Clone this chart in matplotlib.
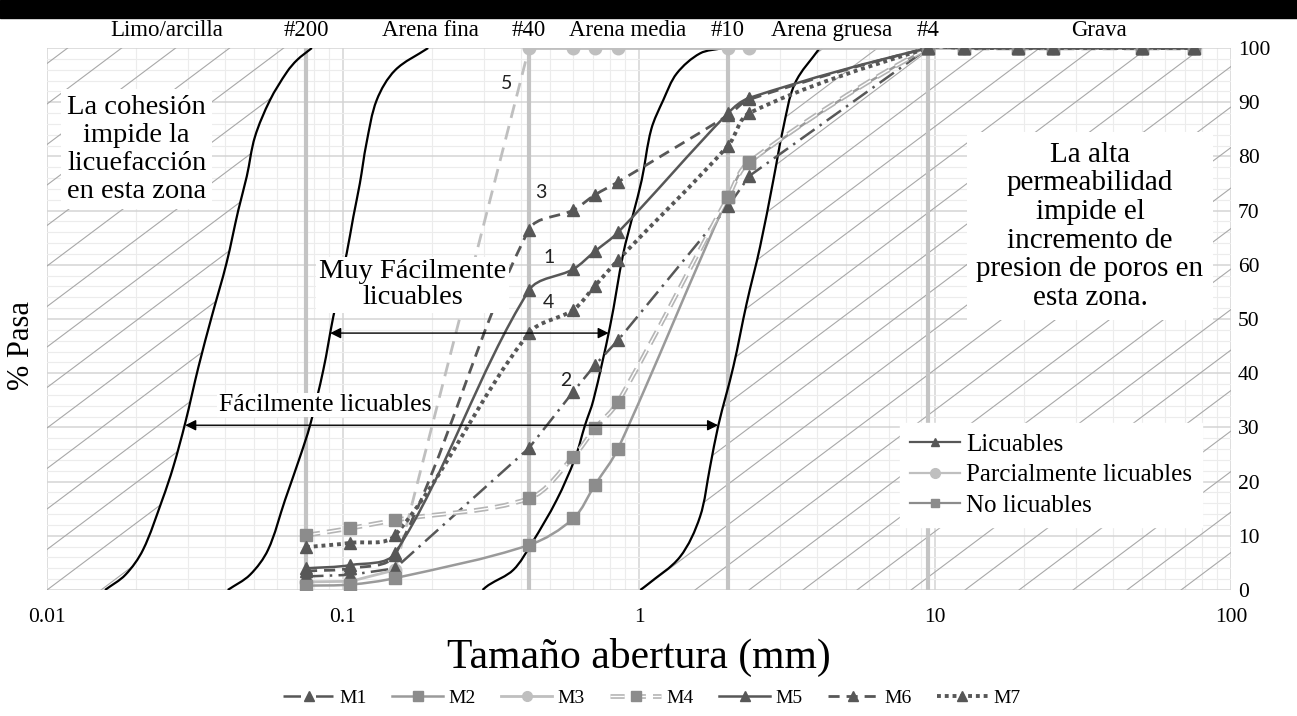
import numpy as np
import matplotlib
matplotlib.use('Agg')
import matplotlib.pyplot as plt
from matplotlib.patches import Polygon, Rectangle, PathPatch
from matplotlib.lines import Line2D
from matplotlib.path import Path
import matplotlib.ticker as mticker

# Sieve openings (mm) and percent passing for each sample
tamiz_mm = [0.075, 0.106, 0.15, 0.425, 0.6, 0.71, 0.85, 2.0, 2.36, 9.5, 12.5, 19.0, 25.0, 50.0, 75.0]
M1 = [2.5, 2.8, 4.0, 26.2, 36.6, 41.5, 46.1, 70.8, 76.4, 100, 100, 100, 100, 100, 100]
M2 = [0.8, 1.0, 2.2, 8.3, 13.2, 19.4, 26.1, 72.5, 78.8, 100, 100, 100, 100, 100, 100]
M3 = [1.5, 1.6, 3.7, 100, 100, 100, 100, 100, 100, 100, 100, 100, 100, 100, 100]
M4 = [10.1, 11.4, 12.9, 16.9, 24.6, 29.8, 34.7, 72.5, 79.0, 100, 100, 100, 100, 100, 100]
M5 = [4.0, 4.6, 6.8, 55.3, 59.2, 62.5, 66.0, 88.0, 90.8, 100, 100, 100, 100, 100, 100]
M6 = [3.5, 4.0, 6.5, 66.5, 70.1, 72.9, 75.3, 87.6, 90.5, 100, 100, 100, 100, 100, 100]
M7 = [7.9, 8.7, 10.1, 47.4, 51.7, 56.1, 60.9, 82.0, 88.0, 100, 100, 100, 100, 100, 100]

# Limit curves (mm, % passing)
lim_a_x = [0.0157, 0.0184, 0.0211, 0.0245, 0.0267, 0.0293, 0.0325, 0.0360, 0.0404, 0.0443, 0.0473, 0.0504, 0.0567, 0.0647, 0.070, 0.0785]
lim_a_y = [0, 2.8, 7.4, 16.6, 22.7, 30.8, 41.2, 50.4, 60.3, 70.1, 76.3, 83.6, 90.4, 95.6, 97.8, 100]
lim_b_x = [0.0408, 0.0485, 0.0558, 0.0637, 0.0716, 0.0774, 0.0858, 0.0927, 0.1029, 0.1084, 0.114, 0.120, 0.130, 0.150, 0.194]
lim_b_y = [0, 2.8, 7.4, 16.6, 24.6, 30.4, 40.6, 50.4, 62.1, 68.9, 75, 82.4, 90.4, 95.9, 100]
lim_c_x = [0.296, 0.31, 0.376, 0.434, 0.527, 0.608, 0.657, 0.701, 0.798, 0.885, 0.957, 1.021, 1.10, 1.208, 1.341, 1.607, 1.927]
lim_c_y = [0, 0.9, 3.7, 8.6, 16.6, 24.3, 30.4, 35, 48.6, 62.1, 69.5, 75.6, 85, 90.4, 95.3, 99, 100]
lim_d_x = [1.01, 1.062, 1.375, 1.607, 1.738, 1.854, 2.083, 2.311, 2.564, 2.843, 3.065, 3.365, 4.08]
lim_d_y = [0, 0.9, 6.1, 13.5, 22.7, 30.4, 41.2, 52.9, 63.3, 75.6, 85, 93.5, 100]

# Sieve marks and soil zones along the top
tamices = [0.075, 0.425, 2.0, 9.5]
tamiz_nombres = ['#200', '#40', '#10', '#4']
zonas = ['Limo/arcilla', 'Arena fina', 'Arena media', 'Arena gruesa', 'Grava']
zonas_x = [0.0254, 0.197, 0.918, 4.49, 35.8]

plt.rcParams['font.family'] = ['Liberation Serif', 'DejaVu Serif']

W, H = 1297, 716
AX_W, AX_H = 1184, 542
fig = plt.figure(figsize=(W / 100, H / 100), dpi=100)
ax = fig.add_axes([47 / W, 126 / H, AX_W / W, AX_H / H])
ax.set_xscale('log')
ax.set_xlim(0.01, 100)
ax.set_ylim(0, 100)
px_dec = AX_W / 4.0
px_pct = AX_H / 100.0


def suave(xs, ys):
    # smoothed line like Excel's: Bezier through the points, arms scaled by chord length
    u = np.log10(xs) * px_dec
    v = np.asarray(ys, dtype=float) * px_pct
    P = np.column_stack([u, v])
    n = len(P)
    d = np.hypot(*np.diff(P, axis=0).T)
    verts = [P[0]]
    codes = [Path.MOVETO]
    for i in range(n - 1):
        if i > 0:
            c1 = P[i] + (P[i + 1] - P[i - 1]) * d[i] / (d[i - 1] + d[i]) / 3
        else:
            c1 = P[i] + (P[i + 1] - P[i]) / 3
        if i + 2 < n:
            c2 = P[i + 1] - (P[i + 2] - P[i]) * d[i] / (d[i] + d[i + 1]) / 3
        else:
            c2 = P[i + 1] - (P[i + 1] - P[i]) / 3
        verts += [c1, c2, P[i + 1]]
        codes += [Path.CURVE4] * 3
    verts = np.array(verts)
    return Path(np.column_stack([10 ** (verts[:, 0] / px_dec), verts[:, 1] / px_pct]), codes)


def linea(xs, ys, z=3, **kw):
    ax.add_patch(PathPatch(suave(xs, ys), fill=False, zorder=z, capstyle='butt', **kw))


# black band at the very top
fig.patches.append(Rectangle((0, 1 - 18 / H), 1, 18 / H, transform=fig.transFigure,
                             color='black', zorder=0))

# grid
ax.set_xticks([0.01, 0.1, 1, 10, 100])
ax.set_xticklabels(['0.01', '0.1', '1', '10', '100'])
ax.xaxis.set_minor_locator(mticker.LogLocator(base=10, subs=(2, 3, 4, 5, 6, 7, 8, 9)))
ax.xaxis.set_minor_formatter(mticker.NullFormatter())
ax.set_yticks(range(0, 101, 10))
ax.set_yticks(range(0, 101, 2), minor=True)
ax.grid(which='major', color='#d4d4d4', lw=1.1)
ax.grid(which='minor', color='#ececec', lw=0.8)
ax.set_axisbelow(True)
ax.yaxis.tick_right()
ax.tick_params(which='both', length=0, labelsize=15.5)
ax.tick_params(axis='y', pad=5)
ax.tick_params(axis='x', pad=13)
for s in ax.spines.values():
    s.set_visible(False)

# hatched zones, drawn as thin diagonal lines clipped to the zone
izq = [(0.01, 0)] + list(zip(lim_a_x, lim_a_y)) + [(0.01, 100)]
der = list(zip(lim_d_x, lim_d_y)) + [(100, 100), (100, 0)]
slope = 0.75 * AX_W / AX_H
step = 54 / AX_W
for verts in (izq, der):
    clip = Polygon(verts, closed=True, transform=ax.transData)
    for k in range(-40, 40):
        x0 = k * step
        ln, = ax.plot([x0, x0 + 1 / slope], [0, 1], transform=ax.transAxes,
                      color='#a8a8a8', lw=0.8, zorder=1.2)
        ln.set_clip_path(clip)

# sieve lines and labels
for t, nombre in zip(tamices, tamiz_nombres):
    ax.axvline(t, color='#c4c4c4', lw=3, zorder=1.5)
    ax.text(t, 1.033, nombre, transform=ax.get_xaxis_transform(), ha='center', va='center',
            fontsize=16.5)
for z, zx in zip(zonas, zonas_x):
    ax.text(zx, 1.033, z, transform=ax.get_xaxis_transform(), ha='center', va='center',
            fontsize=16.5)

# limit curves
for lx, ly in ((lim_a_x, lim_a_y), (lim_b_x, lim_b_y), (lim_c_x, lim_c_y), (lim_d_x, lim_d_y)):
    linea(lx, ly, z=2, color='black', lw=1.6)

dark = '#575757'
mid = '#8c8c8c'
light = '#bfbfbf'
mk = dict(ls='none', ms=9, zorder=3.5)

# M1 dash-dot (straight segments)
ax.plot(tamiz_mm, M1, color=dark, lw=1.8, dashes=(7, 2.5, 1, 2.5), zorder=3)
ax.plot(tamiz_mm, M1, marker='^', color=dark, **mk)
# M2
linea(tamiz_mm, M2, color='#9a9a9a', lw=1.8)
ax.plot(tamiz_mm, M2, marker='s', color=mid, ls='none', ms=8, zorder=3.5)
# M3: light line, dashed on the long jump
ax.plot(tamiz_mm[2:4], M3[2:4], color=light, lw=2, dashes=(5, 3), zorder=3)
ax.plot(tamiz_mm[:3], M3[:3], color=light, lw=2, marker='o', ms=9, zorder=3)
ax.plot(tamiz_mm[3:], M3[3:], color=light, lw=2, marker='o', ms=9, zorder=3)
# M4: double line
linea(tamiz_mm, M4, color='#b5b5b5', lw=3.4, ls=(0, (3, 1.5)))
linea(tamiz_mm, M4, color='white', lw=1.0, ls=(0, (10.2, 5.1)))
ax.plot(tamiz_mm, M4, marker='s', color=mid, ls='none', ms=8, zorder=3.5)
# M5 solid, M6 dashed, M7 dotted
linea(tamiz_mm, M5, color=dark, lw=1.8)
ax.plot(tamiz_mm, M5, marker='^', color=dark, **mk)
linea(tamiz_mm, M6, color=dark, lw=2, ls=(0, (4, 2.5)))
ax.plot(tamiz_mm, M6, marker='^', color=dark, **mk)
linea(tamiz_mm, M7, color=dark, lw=2.8, ls=(0, (1, 1)))
ax.plot(tamiz_mm, M7, marker='^', color=dark, **mk)

# sample numbers
for txt, px, py in (('1', 0.497, 61.3), ('2', 0.566, 38.7), ('3', 0.467, 73.4),
                    ('4', 0.493, 53.1), ('5', 0.356, 93.4)):
    ax.text(px, py, txt, fontsize=14, family='Lato', color='#222222', ha='center', va='center',
            zorder=4)

ax.text(0.0201, 81.3, 'La cohesión\nimpide la\nlicuefacción\nen esta zona', fontsize=20.5,
        ha='center', va='center', linespacing=1.15,
        bbox=dict(facecolor='white', edgecolor='none', pad=4), zorder=5)
ax.text(33.4, 67.1, 'La alta\npermeabilidad\nimpide el\nincremento de\npresion de poros en\nesta zona.',
        fontsize=21, ha='center', va='center', linespacing=1.13,
        bbox=dict(facecolor='white', edgecolor='none', pad=7), zorder=5)
ax.text(0.1723, 56.3, 'Muy Fácilmente\nlicuables', fontsize=20.5, ha='center', va='center',
        linespacing=1.04, bbox=dict(facecolor='white', edgecolor='none', pad=2), zorder=5)
ax.text(0.0869, 34.1, 'Fácilmente licuables', fontsize=18.5, ha='center', va='center',
        bbox=dict(facecolor='white', edgecolor='none', pad=1), zorder=5)

arrow = dict(arrowstyle='<|-|>', color='black', lw=1, mutation_scale=16, shrinkA=0, shrinkB=0)
ax.annotate('', xy=(0.0905, 47.4), xytext=(0.79, 47.4), arrowprops=arrow, zorder=6)
ax.annotate('', xy=(0.0293, 30.4), xytext=(1.85, 30.4), arrowprops=arrow, zorder=6)

ax.set_xlabel('Tamaño abertura (mm)', fontsize=30, labelpad=8)
fig.text(22 / W, 1 - 345 / H, '% Pasa', rotation=90, fontsize=22, ha='center', va='center')

# legend inside the plot
cat = [Line2D([], [], color=dark, lw=1.6, marker='^', ms=6),
       Line2D([], [], color=light, lw=1.6, marker='o', ms=7),
       Line2D([], [], color=mid, lw=1.6, marker='s', ms=6)]
leg1 = ax.legend(cat, ['Licuables', 'Parcialmente licuables', 'No licuables'],
                 loc='upper left', bbox_to_anchor=(0.7095, 0.331), fontsize=18, frameon=True,
                 fancybox=False, edgecolor='white', framealpha=1, handlelength=2.0,
                 handletextpad=0.25, labelspacing=0.33, borderpad=0.4)
leg1.set_zorder(7)

# legend below the plot
h1 = Line2D([], [], color=dark, lw=1.8, dashes=(7, 2.5, 1, 2.5), marker='^', ms=7)
h2 = Line2D([], [], color='#9a9a9a', lw=1.8, marker='s', ms=7, mfc=mid, mec=mid)
h3 = Line2D([], [], color=light, lw=2, marker='o', ms=7)
h4a = Line2D([], [], color='#b5b5b5', lw=3.4, dashes=(3, 1.5))
h4b = Line2D([], [], color='white', lw=1.0, dashes=(10.2, 5.1))
h4c = Line2D([], [], ls='none', marker='s', ms=7, color=mid)
h5 = Line2D([], [], color=dark, lw=1.8, marker='^', ms=7)
h6 = Line2D([], [], color=dark, lw=2, dashes=(4, 2.5), marker='^', ms=7)
h7 = Line2D([], [], color=dark, lw=2.8, dashes=(1, 1), marker='^', ms=7)
fig.legend([h1, h2, h3, (h4a, h4b, h4c), h5, h6, h7],
           ['M1', 'M2', 'M3', 'M4', 'M5', 'M6', 'M7'],
           loc='center', bbox_to_anchor=(652 / W, 1 - 698 / H), ncol=7, frameon=False,
           fontsize=14, handlelength=2.6, columnspacing=1.3, handletextpad=0.3)

fig.savefig('out.png', dpi=100)
